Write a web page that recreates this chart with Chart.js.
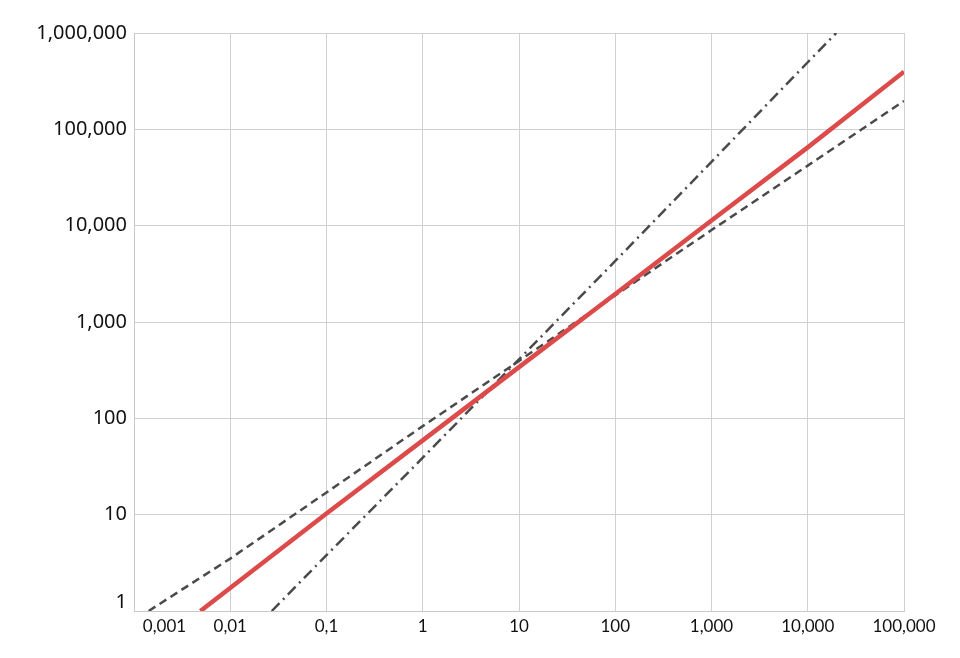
<!DOCTYPE html>
<html lang="en">
<head>
   <meta charset="UTF-8">
   <title>Log-log chart</title>
   <style>
      html, body { margin: 0; padding: 0; background: #fff; }
      .wrap { width: 960px; height: 658px; }
   </style>
   <script src="https://cdn.jsdelivr.net/npm/chart.js@4/dist/chart.umd.min.js"></script>
</head>
<body>
   <div class="wrap"><canvas id="chart" width="960" height="658"></canvas></div>
   <script>
      // tick positions and their labels (decimal comma on the x axis)
      const xTicks = [0.001, 0.01, 0.1, 1, 10, 100, 1000, 10000, 100000];
      const xTickLabels = ['0,001', '0,01', '0,1', '1', '10', '100', '1,000', '10,000', '100,000'];
      const yTicks = [1, 10, 100, 1000, 10000, 100000, 1000000];
      const yTickLabels = ['1', '10', '100', '1,000', '10,000', '100,000', '1,000,000'];

      // series
      const redX = [0.0049, 0.1, 1, 10, 100, 1000, 10000, 100000];
      const redY = [1, 10.3, 59, 340, 1950, 11300, 65000, 396000];
      const dashX = [0.00142, 0.01, 0.1, 1, 10, 100, 1000, 10000, 100000];
      const dashY = [1, 3.5, 17, 83, 395, 1890, 9000, 42000, 197000];
      const dashDotX = [0.027, 0.1, 1, 10, 100, 1000, 10000, 19800];
      const dashDotY = [1, 3.8, 39, 410, 4300, 46000, 497000, 1000000];

      const pts = (xs, ys) => xs.map((x, i) => ({ x: x, y: ys[i] }));

      const ctx = document.getElementById('chart').getContext('2d');
      new Chart(ctx, {
         type: 'scatter',
         data: {
            datasets: [
               {
                  data: pts(dashX, dashY),
                  showLine: true,
                  borderColor: '#4a4a4a',
                  borderWidth: 2.5,
                  borderDash: [8, 5],
                  pointRadius: 0,
                  order: 2
               },
               {
                  data: pts(dashDotX, dashDotY),
                  showLine: true,
                  borderColor: '#4a4a4a',
                  borderWidth: 2.5,
                  borderDash: [11, 5, 2, 5],
                  pointRadius: 0,
                  order: 3
               },
               {
                  data: pts(redX, redY),
                  showLine: true,
                  borderColor: '#dd4a4a',
                  borderWidth: 4.5,
                  pointRadius: 0,
                  order: 1
               }
            ]
         },
         options: {
            responsive: false,
            animation: false,
            layout: { padding: { top: 33, right: 56, bottom: 0, left: 0 } },
            plugins: {
               legend: { display: false },
               tooltip: { enabled: false }
            },
            scales: {
               x: {
                  type: 'logarithmic',
                  min: 0.001,
                  max: 100000,
                  afterBuildTicks: (s) => { s.ticks = xTicks.map(v => ({ value: v })); },
                  afterFit: (s) => { s.height = 47; },
                  grid: { color: '#d0d0d0', lineWidth: 1, drawTicks: false },
                  border: { color: '#c8c8c8' },
                  ticks: {
                     padding: 5,
                     maxRotation: 0,
                     autoSkip: false,
                     color: '#111',
                     font: { family: 'Lato', size: 17 },
                     callback: function (v, i) {
                        // first label starts at the axis instead of being centred on it
                        return i === 0 ? '              ' + xTickLabels[i] : xTickLabels[i];
                     }
                  }
               },
               y: {
                  type: 'logarithmic',
                  min: 1,
                  max: 1000000,
                  afterBuildTicks: (s) => { s.ticks = yTicks.map(v => ({ value: v })); },
                  afterFit: (s) => { s.width = 134; },
                  grid: { color: '#d0d0d0', lineWidth: 1, drawTicks: false },
                  border: { color: '#c8c8c8' },
                  ticks: {
                     padding: 7,
                     autoSkip: false,
                     color: '#111',
                     font: { family: 'Noto Sans', size: 20, lineHeight: 0.9 },
                     callback: function (v, i) {
                        // bottom label sits above the axis line
                        return i === 0 ? [yTickLabels[i], ''] : yTickLabels[i];
                     }
                  }
               }
            }
         }
      });
   </script>
</body>
</html>
